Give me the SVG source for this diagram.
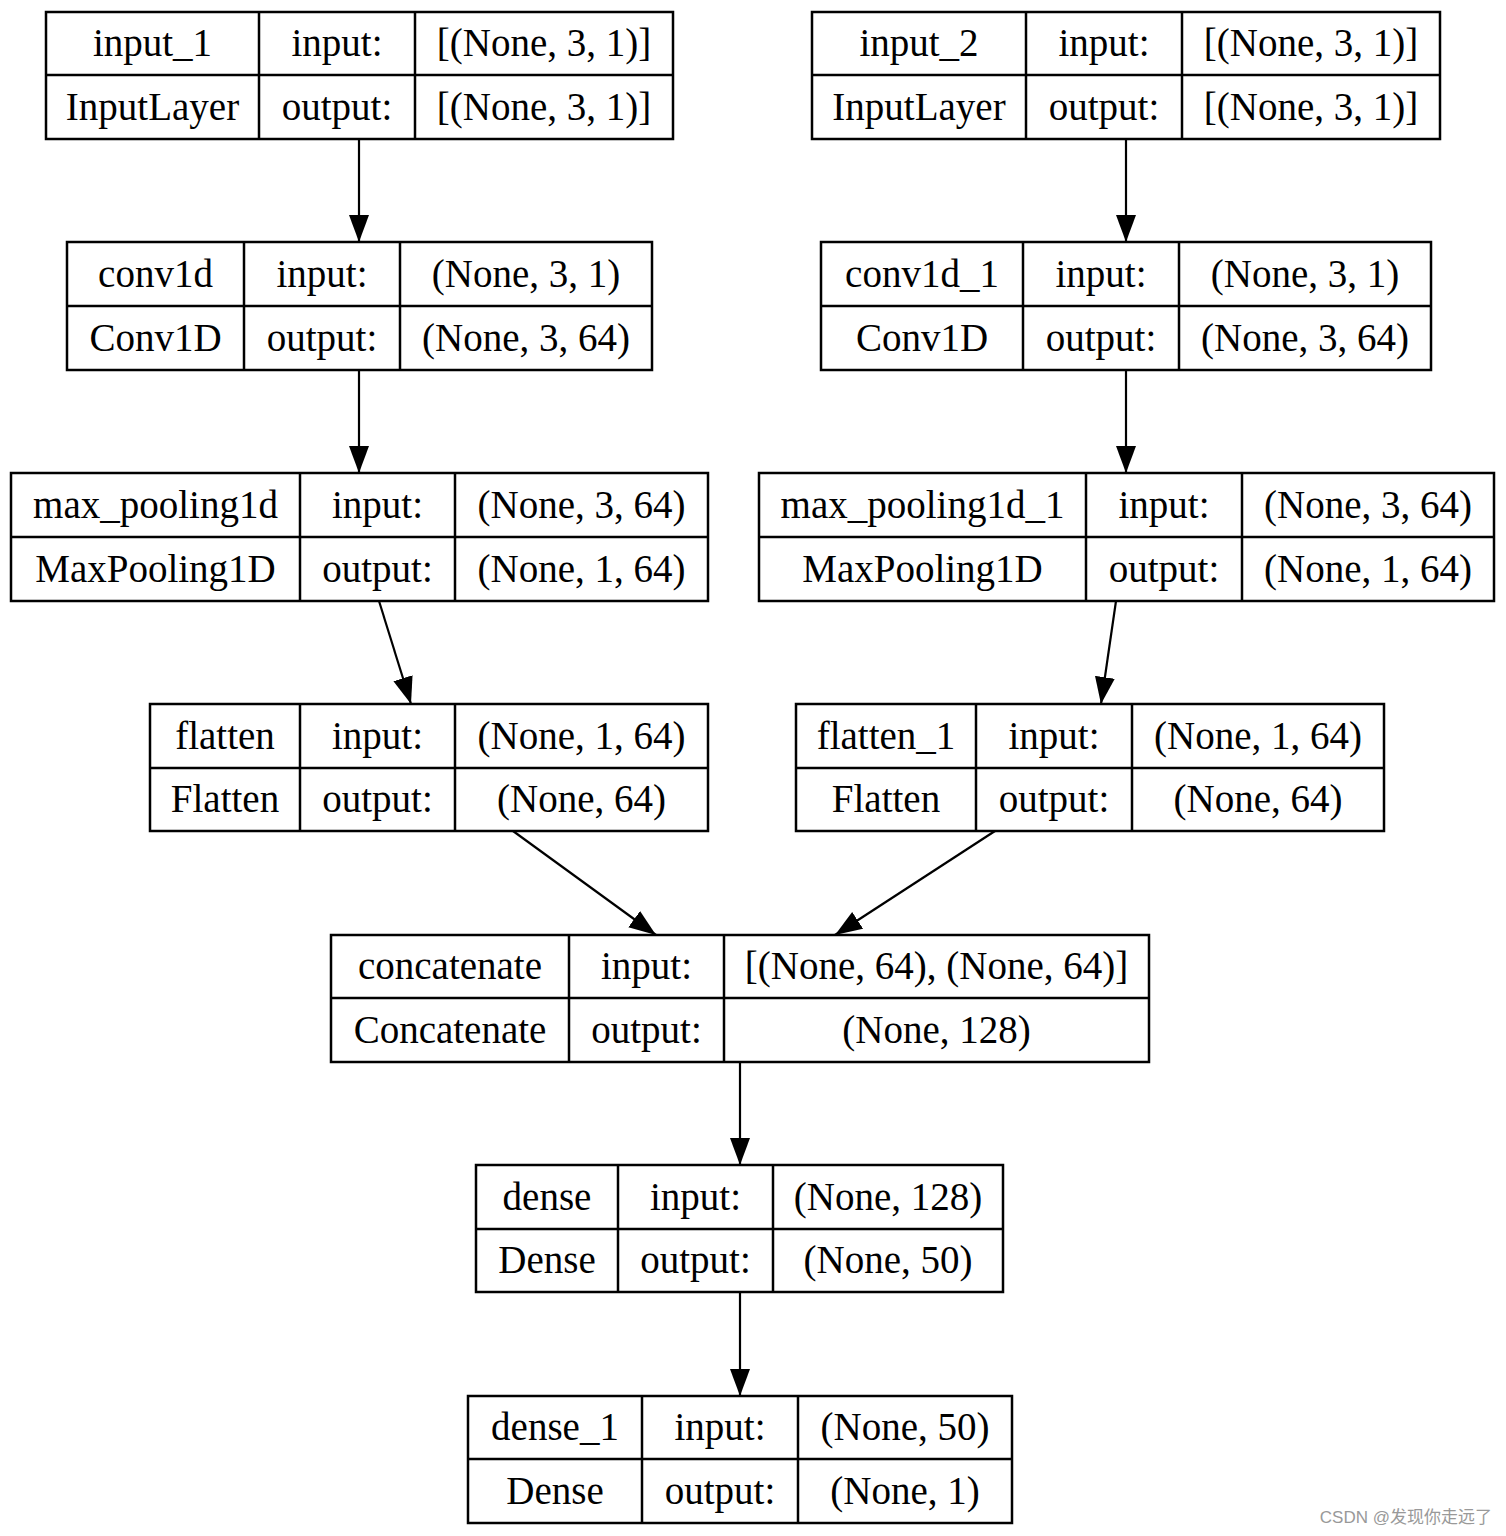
<svg xmlns="http://www.w3.org/2000/svg" width="1506" height="1536" viewBox="0 0 1506 1536">
<style>
.b{fill:#fff;stroke:#000;stroke-width:2.5}
.l{stroke:#000;stroke-width:2.5}
text{font-family:"Liberation Serif","Times New Roman",serif;font-size:39px;text-anchor:middle;fill:#000}
.e{stroke:#000;stroke-width:2.2;fill:none}
.wm{font-family:"Liberation Sans","Noto Sans CJK SC",sans-serif;font-size:17px;fill:#999;text-anchor:end}
</style>
<defs>
<marker id="ah" markerUnits="userSpaceOnUse" markerWidth="28" markerHeight="22" refX="27" refY="10" orient="auto" viewBox="0 0 28 22">
<path d="M0,0 L27,10 L0,20 z" fill="#000"/>
</marker>
</defs>
<rect width="1506" height="1536" fill="#fff"/>
<g id="edges">
<line class="e" x1="359" y1="139" x2="359" y2="242" marker-end="url(#ah)"/>
<line class="e" x1="1126" y1="139" x2="1126" y2="242" marker-end="url(#ah)"/>
<line class="e" x1="359" y1="370" x2="359" y2="473" marker-end="url(#ah)"/>
<line class="e" x1="1126" y1="370" x2="1126" y2="473" marker-end="url(#ah)"/>
<line class="e" x1="379" y1="601" x2="411" y2="704" marker-end="url(#ah)"/>
<line class="e" x1="1116" y1="601" x2="1101" y2="704" marker-end="url(#ah)"/>
<line class="e" x1="513" y1="831" x2="656" y2="935" marker-end="url(#ah)"/>
<line class="e" x1="995" y1="831" x2="835" y2="935" marker-end="url(#ah)"/>
<line class="e" x1="740" y1="1062" x2="740" y2="1165" marker-end="url(#ah)"/>
<line class="e" x1="740" y1="1292" x2="740" y2="1396" marker-end="url(#ah)"/>
</g>
<g id="input_1">
<rect class="b" x="46" y="12" width="627" height="127"/>
<line class="l" x1="259" y1="12" x2="259" y2="139"/><line class="l" x1="415" y1="12" x2="415" y2="139"/><line class="l" x1="46" y1="75" x2="673" y2="75"/>
<text x="152.5" y="56">input_1</text><text x="337" y="56">input:</text><text x="544" y="56">[(None, 3, 1)]</text>
<text x="152.5" y="120">InputLayer</text><text x="337" y="120">output:</text><text x="544" y="120">[(None, 3, 1)]</text>
</g>
<g id="input_2">
<rect class="b" x="812" y="12" width="628" height="127"/>
<line class="l" x1="1026" y1="12" x2="1026" y2="139"/><line class="l" x1="1182" y1="12" x2="1182" y2="139"/><line class="l" x1="812" y1="75" x2="1440" y2="75"/>
<text x="919" y="56">input_2</text><text x="1104" y="56">input:</text><text x="1311" y="56">[(None, 3, 1)]</text>
<text x="919" y="120">InputLayer</text><text x="1104" y="120">output:</text><text x="1311" y="120">[(None, 3, 1)]</text>
</g>
<g id="conv1d">
<rect class="b" x="67" y="242" width="585" height="128"/>
<line class="l" x1="244" y1="242" x2="244" y2="370"/><line class="l" x1="400" y1="242" x2="400" y2="370"/><line class="l" x1="67" y1="306" x2="652" y2="306"/>
<text x="155.5" y="287">conv1d</text><text x="322" y="287">input:</text><text x="526" y="287">(None, 3, 1)</text>
<text x="155.5" y="351">Conv1D</text><text x="322" y="351">output:</text><text x="526" y="351">(None, 3, 64)</text>
</g>
<g id="conv1d_1">
<rect class="b" x="821" y="242" width="610" height="128"/>
<line class="l" x1="1023" y1="242" x2="1023" y2="370"/><line class="l" x1="1179" y1="242" x2="1179" y2="370"/><line class="l" x1="821" y1="306" x2="1431" y2="306"/>
<text x="922" y="287">conv1d_1</text><text x="1101" y="287">input:</text><text x="1305" y="287">(None, 3, 1)</text>
<text x="922" y="351">Conv1D</text><text x="1101" y="351">output:</text><text x="1305" y="351">(None, 3, 64)</text>
</g>
<g id="max_pooling1d">
<rect class="b" x="11" y="473" width="697" height="128"/>
<line class="l" x1="300" y1="473" x2="300" y2="601"/><line class="l" x1="455" y1="473" x2="455" y2="601"/><line class="l" x1="11" y1="537" x2="708" y2="537"/>
<text x="155.5" y="518">max_pooling1d</text><text x="377.5" y="518">input:</text><text x="581.5" y="518">(None, 3, 64)</text>
<text x="155.5" y="582">MaxPooling1D</text><text x="377.5" y="582">output:</text><text x="581.5" y="582">(None, 1, 64)</text>
</g>
<g id="max_pooling1d_1">
<rect class="b" x="759" y="473" width="735" height="128"/>
<line class="l" x1="1086" y1="473" x2="1086" y2="601"/><line class="l" x1="1242" y1="473" x2="1242" y2="601"/><line class="l" x1="759" y1="537" x2="1494" y2="537"/>
<text x="922.5" y="518">max_pooling1d_1</text><text x="1164" y="518">input:</text><text x="1368" y="518">(None, 3, 64)</text>
<text x="922.5" y="582">MaxPooling1D</text><text x="1164" y="582">output:</text><text x="1368" y="582">(None, 1, 64)</text>
</g>
<g id="flatten">
<rect class="b" x="150" y="704" width="558" height="127"/>
<line class="l" x1="300" y1="704" x2="300" y2="831"/><line class="l" x1="455" y1="704" x2="455" y2="831"/><line class="l" x1="150" y1="768" x2="708" y2="768"/>
<text x="225" y="749">flatten</text><text x="377.5" y="749">input:</text><text x="581.5" y="749">(None, 1, 64)</text>
<text x="225" y="812">Flatten</text><text x="377.5" y="812">output:</text><text x="581.5" y="812">(None, 64)</text>
</g>
<g id="flatten_1">
<rect class="b" x="796" y="704" width="588" height="127"/>
<line class="l" x1="976" y1="704" x2="976" y2="831"/><line class="l" x1="1132" y1="704" x2="1132" y2="831"/><line class="l" x1="796" y1="768" x2="1384" y2="768"/>
<text x="886" y="749">flatten_1</text><text x="1054" y="749">input:</text><text x="1258" y="749">(None, 1, 64)</text>
<text x="886" y="812">Flatten</text><text x="1054" y="812">output:</text><text x="1258" y="812">(None, 64)</text>
</g>
<g id="concatenate">
<rect class="b" x="331" y="935" width="818" height="127"/>
<line class="l" x1="569" y1="935" x2="569" y2="1062"/><line class="l" x1="724" y1="935" x2="724" y2="1062"/><line class="l" x1="331" y1="998" x2="1149" y2="998"/>
<text x="450" y="979">concatenate</text><text x="646.5" y="979">input:</text><text x="936.5" y="979">[(None, 64), (None, 64)]</text>
<text x="450" y="1043">Concatenate</text><text x="646.5" y="1043">output:</text><text x="936.5" y="1043">(None, 128)</text>
</g>
<g id="dense">
<rect class="b" x="476" y="1165" width="527" height="127"/>
<line class="l" x1="618" y1="1165" x2="618" y2="1292"/><line class="l" x1="773" y1="1165" x2="773" y2="1292"/><line class="l" x1="476" y1="1229" x2="1003" y2="1229"/>
<text x="547" y="1210">dense</text><text x="695.5" y="1210">input:</text><text x="888" y="1210">(None, 128)</text>
<text x="547" y="1273">Dense</text><text x="695.5" y="1273">output:</text><text x="888" y="1273">(None, 50)</text>
</g>
<g id="dense_1">
<rect class="b" x="468" y="1396" width="544" height="127"/>
<line class="l" x1="642" y1="1396" x2="642" y2="1523"/><line class="l" x1="798" y1="1396" x2="798" y2="1523"/><line class="l" x1="468" y1="1459" x2="1012" y2="1459"/>
<text x="555" y="1440">dense_1</text><text x="720" y="1440">input:</text><text x="905" y="1440">(None, 50)</text>
<text x="555" y="1504">Dense</text><text x="720" y="1504">output:</text><text x="905" y="1504">(None, 1)</text>
</g>
<text class="wm" x="1492" y="1523">CSDN @发现你走远了</text>
</svg>
